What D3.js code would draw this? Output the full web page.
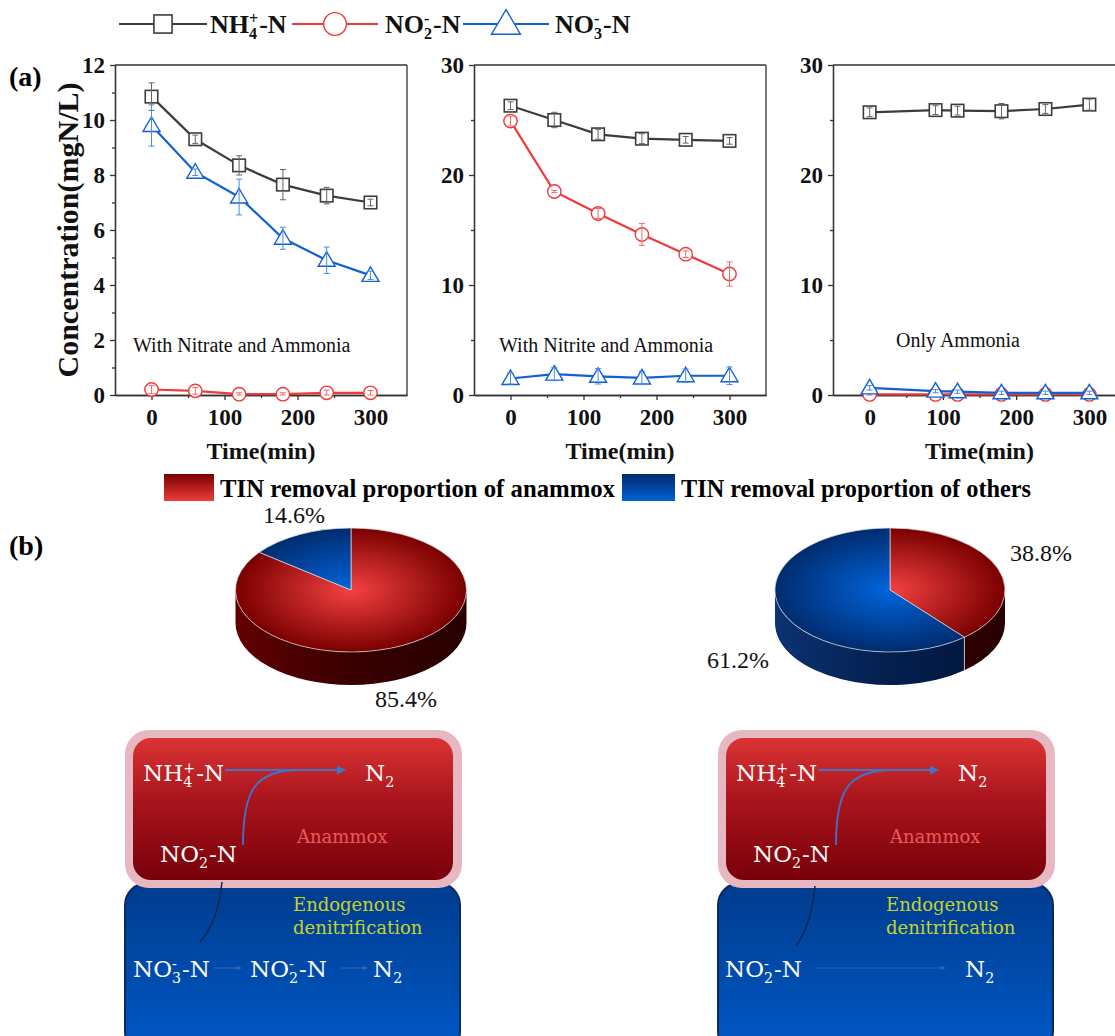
<!DOCTYPE html>
<html>
<head>
<meta charset="utf-8">
<script src="https://cdn.jsdelivr.net/npm/d3@7"></script>
<style>
  body { margin: 0; background: #fff; }
  svg { display: block; }
</style>
</head>
<body>
<div id="chart"></div>
<script>
// ---- data ----
const times1 = [0, 60, 120, 180, 240, 300];
const times3 = [0, 90, 120, 180, 240, 300];

const nh4A = [10.85, 9.3, 8.35, 7.65, 7.25, 7.0];
const nh4AErr = [0.5, 0.15, 0.35, 0.55, 0.3, 0.12];
const no2A = [0.2, 0.15, 0.03, 0.03, 0.08, 0.08];
const no2AErr = [0.15, 0.12, 0.05, 0.05, 0.1, 0.08];
const no3A = [9.8, 8.1, 7.2, 5.7, 4.9, 4.35];
const no3AErr = [0.75, 0.12, 0.65, 0.4, 0.48, 0.15];

const nh4B = [26.3, 25.0, 23.7, 23.3, 23.2, 23.1];
const nh4BErr = [0.35, 0.7, 0.45, 0.45, 0.3, 0.3];
const no2B = [24.9, 18.5, 16.5, 14.6, 12.8, 11.0];
const no2BErr = [0.45, 0.1, 0.45, 1.0, 0.3, 1.1];
const no3B = [1.5, 1.9, 1.7, 1.55, 1.75, 1.75];
const no3BErr = [0.5, 0.6, 0.7, 0.6, 0.6, 0.8];

const nh4C = [25.7, 25.9, 25.85, 25.8, 26.0, 26.4];
const nh4CErr = [0.4, 0.4, 0.4, 0.7, 0.4, 0.5];
const no2C = [0.05, 0.05, 0.05, 0.05, 0.05, 0.05];
const no2CErr = [0.1, 0.1, 0.1, 0.1, 0.1, 0.1];
const no3C = [0.65, 0.35, 0.3, 0.2, 0.2, 0.2];
const no3CErr = [0.2, 0.15, 0.15, 0.15, 0.15, 0.15];

const panelNotes = ["With Nitrate and Ammonia", "With Nitrite and Ammonia", "Only Ammonia"];
const xTicks = [0, 100, 200, 300];

const pieGroups = ["anammox", "others"];
const anammoxShare = [85.4, 38.8];
const othersShare = [14.6, 61.2];

// ---- setup ----
const FONT = "Liberation Serif, Times New Roman, serif";
const W = 1115, H = 1036;
const svg = d3.select("#chart").append("svg").attr("width", W).attr("height", H)
  .attr("font-family", FONT);
const defs = svg.append("defs");

const colors = { nh4: "#3c3c3c", no2: "#f03a3a", no3: "#1160d4" };
const errColors = { nh4: "#666", no2: "#f06a6a", no3: "#4a8ce6" };

// one text element with tspans; sup and sub stacked like NH4+ ; returns end x
function chem(g, x, y, parts, size, fill, weight) {
  const t = g.append("text").attr("x", x).attr("y", y).attr("font-size", size)
    .attr("font-weight", weight || "normal").attr("fill", fill);
  let cx = x, shift = 0;
  parts.forEach(p => {
    if (typeof p === "string") {
      const s = t.append("tspan").attr("x", cx).attr("dy", -shift).text(p);
      shift = 0;
      cx += s.node().getComputedTextLength();
    } else {
      let w = 0;
      if (p.sup) {
        const off = -size * 0.36;
        const s = t.append("tspan").attr("x", cx).attr("dy", off - shift).attr("font-size", size * 0.62).text(p.sup);
        shift = off; w = Math.max(w, s.node().getComputedTextLength());
      }
      if (p.sub) {
        const off = size * 0.24;
        const s = t.append("tspan").attr("x", cx).attr("dy", off - shift).attr("font-size", size * 0.62).text(p.sub);
        shift = off; w = Math.max(w, s.node().getComputedTextLength());
      }
      cx += w + 1;
    }
  });
  return cx;
}

function marker(g, type, cx, cy, k) {
  k = k || 1;
  if (type === "nh4") {
    const s = 12.5 * k;
    g.append("rect").attr("x", cx - s / 2).attr("y", cy - s / 2).attr("width", s).attr("height", s)
      .attr("fill", "#fff").attr("stroke", colors.nh4).attr("stroke-width", 1.6);
  } else if (type === "no2") {
    g.append("circle").attr("cx", cx).attr("cy", cy).attr("r", 6.7 * k)
      .attr("fill", "#fff").attr("stroke", colors.no2).attr("stroke-width", 1.4);
  } else {
    g.append("path").attr("transform", `translate(${cx},${cy}) scale(${k})`)
      .attr("d", "M0,-8.5 L8.5,6 L-8.5,6 Z")
      .attr("fill", "#fff").attr("stroke", colors.no3).attr("stroke-width", 1.4 / k);
  }
}

// ---- (a) line panels ----
const TOP = 65, BOTTOM = 395;
const panels = [
  { left: 115, right: 407, yMax: 12, major: 2, minor: 1, times: times1,
    series: [["nh4", nh4A, nh4AErr], ["no2", no2A, no2AErr], ["no3", no3A, no3AErr]], noteX: 133, noteY: 352 },
  { left: 474, right: 766, yMax: 30, major: 10, minor: 5, times: times1,
    series: [["nh4", nh4B, nh4BErr], ["no2", no2B, no2BErr], ["no3", no3B, no3BErr]], noteX: 499, noteY: 352 },
  { left: 833, right: 1126, yMax: 30, major: 10, minor: 5, times: times3,
    series: [["nh4", nh4C, nh4CErr], ["no2", no2C, no2CErr], ["no3", no3C, no3CErr]], noteX: 896, noteY: 347 }
];

panels.forEach((p, i) => {
  const x = d3.scaleLinear().domain([-50, 350]).range([p.left, p.right]);
  const y = d3.scaleLinear().domain([0, p.yMax]).range([BOTTOM, TOP]);
  const g = svg.append("g");

  const majorY = d3.range(0, p.yMax + 0.001, p.major);
  const minorY = d3.range(0, p.yMax + 0.001, p.minor).filter(v => !majorY.includes(v));

  g.append("g").attr("transform", `translate(${p.left},0)`)
    .call(d3.axisLeft(y).tickValues(minorY).tickSize(3).tickSizeOuter(0).tickFormat(""));
  g.append("g").attr("transform", `translate(${p.left},0)`)
    .call(d3.axisLeft(y).tickValues(majorY).tickSize(5).tickSizeOuter(0).tickPadding(5).tickFormat(d3.format("d")));
  g.append("g").attr("transform", `translate(0,${BOTTOM})`)
    .call(d3.axisBottom(x).tickValues([50, 150, 250]).tickSize(3).tickSizeOuter(0).tickFormat(""));
  g.append("g").attr("transform", `translate(0,${BOTTOM})`)
    .call(d3.axisBottom(x).tickValues(xTicks).tickSize(5).tickSizeOuter(0).tickPadding(9).tickFormat(d3.format("d")));

  g.selectAll(".domain, .tick line").attr("stroke", "#333").attr("stroke-width", 1.3);
  g.selectAll(".tick text").attr("font-size", 23).attr("font-weight", "bold")
    .attr("font-family", FONT).attr("fill", "#111");

  // frame
  g.append("line").attr("x1", p.left).attr("x2", p.right).attr("y1", TOP).attr("y2", TOP)
    .attr("stroke", "#333").attr("stroke-width", 1.3);
  g.append("line").attr("x1", p.right).attr("x2", p.right).attr("y1", TOP).attr("y2", BOTTOM)
    .attr("stroke", "#333").attr("stroke-width", 1.3);

  g.append("text").attr("x", (p.left + p.right) / 2).attr("y", 459).attr("text-anchor", "middle")
    .attr("font-size", 24).attr("font-weight", "bold").attr("fill", "#111").text("Time(min)");

  g.append("text").attr("x", p.noteX).attr("y", p.noteY).attr("font-size", 20).attr("fill", "#111")
    .text(panelNotes[i]);

  const line = d3.line().x(d => x(d[0])).y(d => y(d[1]));
  p.series.forEach(([key, vals, errs]) => {
    const pts = p.times.map((t, j) => [t, vals[j], errs[j]]);
    g.append("path").datum(pts).attr("d", line).attr("fill", "none")
      .attr("stroke", colors[key]).attr("stroke-width", 2.2);
    pts.forEach(d => marker(g, key, x(d[0]), y(d[1])));
    pts.forEach(d => {
      const cx = x(d[0]), y0 = y(Math.max(0, d[1] - d[2])), y1 = y(d[1] + d[2]);
      const eg = g.append("g").attr("stroke", errColors[key]).attr("stroke-width", 1);
      eg.append("line").attr("x1", cx).attr("x2", cx).attr("y1", y0).attr("y2", y1);
      eg.append("line").attr("x1", cx - 3).attr("x2", cx + 3).attr("y1", y0).attr("y2", y0);
      eg.append("line").attr("x1", cx - 3).attr("x2", cx + 3).attr("y1", y1).attr("y2", y1);
    });
  });

  if (i === 0) {
    g.append("text").attr("transform", "translate(78,230) rotate(-90)").attr("text-anchor", "middle")
      .attr("font-size", 30).attr("font-weight", "bold").attr("fill", "#111").text("Concentration(mgN/L)");
  }
});

svg.append("text").attr("x", 9).attr("y", 86).attr("font-size", 28).attr("font-weight", "bold").text("(a)");
svg.append("text").attr("x", 9).attr("y", 555).attr("font-size", 28).attr("font-weight", "bold").text("(b)");

// ---- legend (a) ----
const legItems = [
  { key: "nh4", x0: 119, x1: 207, tx: 210, parts: ["NH", { sup: "+", sub: "4" }, "-N"], k: 1.45 },
  { key: "no2", x0: 292, x1: 378, tx: 385, parts: ["NO", { sup: "-", sub: "2" }, "-N"], k: 1.7 },
  { key: "no3", x0: 463, x1: 549, tx: 555, parts: ["NO", { sup: "-", sub: "3" }, "-N"], k: 1.7 }
];
const leg = svg.append("g");
legItems.forEach(it => {
  leg.append("line").attr("x1", it.x0).attr("x2", it.x1).attr("y1", 24).attr("y2", 24)
    .attr("stroke", colors[it.key]).attr("stroke-width", 2.2);
  marker(leg, it.key, (it.x0 + it.x1) / 2, 24, it.k);
  chem(leg, it.tx, 33, it.parts, 26, "#111", "bold");
});

// ---- (b) pies ----
function linGrad(id, x1, y1, x2, y2, stops, user) {
  const lg = defs.append("linearGradient").attr("id", id)
    .attr("x1", x1).attr("y1", y1).attr("x2", x2).attr("y2", y2);
  if (user) lg.attr("gradientUnits", "userSpaceOnUse");
  stops.forEach(s => lg.append("stop").attr("offset", s[0]).attr("stop-color", s[1]));
}

linGrad("legRed", 0, 0, 0, 1, [[0, "#7a0000"], [1, "#ee3c3c"]]);
linGrad("legBlue", 0, 0, 0, 1, [[0, "#002a6c"], [1, "#0062d6"]]);

const pieLeg = svg.append("g");
pieLeg.append("rect").attr("x", 164).attr("y", 474).attr("width", 50).attr("height", 27).attr("fill", "url(#legRed)");
pieLeg.append("text").attr("x", 220).attr("y", 497).attr("font-size", 26).attr("font-weight", "bold")
  .attr("textLength", 395).attr("lengthAdjust", "spacingAndGlyphs").text("TIN removal proportion of anammox");
pieLeg.append("rect").attr("x", 622).attr("y", 474).attr("width", 53).attr("height", 27).attr("fill", "url(#legBlue)");
pieLeg.append("text").attr("x", 681).attr("y", 497).attr("font-size", 26).attr("font-weight", "bold")
  .attr("textLength", 350).attr("lengthAdjust", "spacingAndGlyphs").text("TIN removal proportion of others");

const pies = [
  { cx: 351, cy: 590, rx: 115.5, ry: 62, depth: 33, idx: 0,
    labels: [{ x: 375, y: 707 }, { x: 263, y: 523 }] },
  { cx: 890, cy: 590, rx: 115, ry: 62, depth: 33, idx: 1,
    labels: [{ x: 1010, y: 561 }, { x: 707, y: 668 }] }
];
const topCols = { anammox: ["#ee3e3e", "#7a0000"], others: ["#0062d8", "#002c6e"] };
const sideCols = { anammox: ["#620000", "#3a0000", "#280000"], others: ["#0c3272", "#041f4e", "#00153a"] };

pies.forEach((pp, k) => {
  const vals = [anammoxShare[pp.idx], othersShare[pp.idx]];
  const arcs = d3.pie().sort(null).startAngle(0).endAngle(2 * Math.PI)(vals);
  const pt = a => [pp.cx + pp.rx * Math.sin(a), pp.cy - pp.ry * Math.cos(a)];

  pieGroups.forEach(name => {
    const rg = defs.append("radialGradient").attr("id", `top-${name}-${k}`)
      .attr("gradientUnits", "userSpaceOnUse").attr("cx", pp.cx).attr("cy", pp.cy).attr("r", pp.rx)
      .attr("gradientTransform", `translate(${pp.cx},${pp.cy}) scale(1,${pp.ry / pp.rx}) translate(${-pp.cx},${-pp.cy})`);
    rg.append("stop").attr("offset", 0.05).attr("stop-color", topCols[name][0]);
    rg.append("stop").attr("offset", 1).attr("stop-color", topCols[name][1]);
    const sc = sideCols[name];
    linGrad(`side-${name}-${k}`, pp.cx - pp.rx, 0, pp.cx + pp.rx, 0, [[0, sc[0]], [0.5, sc[1]], [1, sc[2]]], true);
  });

  const g = svg.append("g");
  // side walls (front half: angles pi/2..3pi/2)
  arcs.forEach((a, j) => {
    const a0 = Math.max(a.startAngle, Math.PI / 2), a1 = Math.min(a.endAngle, 3 * Math.PI / 2);
    if (a1 <= a0) return;
    const p0 = pt(a0), p1 = pt(a1);
    const d = `M${p0[0]},${p0[1]} A${pp.rx},${pp.ry} 0 0 1 ${p1[0]},${p1[1]} L${p1[0]},${p1[1] + pp.depth}` +
      ` A${pp.rx},${pp.ry} 0 0 0 ${p0[0]},${p0[1] + pp.depth} Z`;
    g.append("path").attr("d", d).attr("fill", `url(#side-${pieGroups[j]}-${k})`);
    if (a0 > Math.PI / 2 && a0 < 3 * Math.PI / 2) {
      g.append("line").attr("x1", p0[0]).attr("x2", p0[0]).attr("y1", p0[1]).attr("y2", p0[1] + pp.depth)
        .attr("stroke", "#d8d8d8").attr("stroke-width", 0.8);
    }
  });
  // top faces
  arcs.forEach((a, j) => {
    const p0 = pt(a.startAngle), p1 = pt(a.endAngle);
    const large = a.endAngle - a.startAngle > Math.PI ? 1 : 0;
    const d = `M${pp.cx},${pp.cy} L${p0[0]},${p0[1]} A${pp.rx},${pp.ry} 0 ${large} 1 ${p1[0]},${p1[1]} Z`;
    g.append("path").attr("d", d).attr("fill", `url(#top-${pieGroups[j]}-${k})`)
      .attr("stroke", "#dcdcdc").attr("stroke-width", 0.7);
  });
  // labels
  vals.forEach((v, j) => {
    g.append("text").attr("x", pp.labels[j].x).attr("y", pp.labels[j].y).attr("font-size", 24)
      .attr("fill", "#111").text(d3.format(".1f")(v) + "%");
  });
});

// ---- schematic diagrams ----
linGrad("boxRed", 0, 0, 0, 1, [[0, "#da3434"], [0.45, "#a8141c"], [1, "#78000a"]]);
linGrad("boxBlue", 0, 0, 0, 1, [[0, "#003c8e"], [1, "#0058c6"]]);
const arrowM = defs.append("marker").attr("id", "arr").attr("viewBox", "0 0 10 10").attr("refX", 9).attr("refY", 5)
  .attr("markerWidth", 5).attr("markerHeight", 5).attr("orient", "auto");
arrowM.append("path").attr("d", "M0,0 L10,5 L0,10 Z").attr("fill", "#3f74c8");
const arrowS = defs.append("marker").attr("id", "arrS").attr("viewBox", "0 0 10 10").attr("refX", 9).attr("refY", 5)
  .attr("markerWidth", 3.5).attr("markerHeight", 3.5).attr("orient", "auto");
arrowS.append("path").attr("d", "M0,0 L10,5 L0,10 Z").attr("fill", "#3a6ab8");

const DF = "DejaVu Serif, Liberation Serif, serif";
const schemes = [
  { ox: 0, bottom: [
      { x: 133, parts: ["NO", { sup: "-", sub: "3" }, "-N"] },
      { x: 250, parts: ["NO", { sup: "-", sub: "2" }, "-N"] },
      { x: 373, parts: ["N", { sub: "2" }] }],
    arrows: [[214, 241], [341, 367]], dark: [222, 882, 200, 942] },
  { ox: 593, bottom: [
      { x: 725, parts: ["NO", { sup: "-", sub: "2" }, "-N"] },
      { x: 965, parts: ["N", { sub: "2" }] }],
    arrows: [[815, 945]], dark: [815, 886, 796, 946] }
];

schemes.forEach(s => {
  const o = s.ox;
  const g = svg.append("g").attr("font-family", DF);
  g.append("rect").attr("x", 125 + o).attr("y", 883).attr("width", 335).attr("height", 170).attr("rx", 22)
    .attr("fill", "url(#boxBlue)").attr("stroke", "#0b2a5c").attr("stroke-width", 2);
  g.append("rect").attr("x", 125 + o).attr("y", 730).attr("width", 337).attr("height", 158).attr("rx", 24)
    .attr("fill", "#e7b7c2");
  g.append("rect").attr("x", 133 + o).attr("y", 738).attr("width", 320).attr("height", 142).attr("rx", 18)
    .attr("fill", "url(#boxRed)");

  // anammox
  const endNH = chem(g, 143 + o, 781, ["NH", { sup: "+", sub: "4" }, "-N"], 23, "#fff");
  g.append("line").attr("x1", endNH + 1).attr("x2", 345 + o).attr("y1", 770).attr("y2", 770)
    .attr("stroke", "#3f74c8").attr("stroke-width", 1.8).attr("marker-end", "url(#arr)");
  chem(g, 365 + o, 781, ["N", { sub: "2" }], 23, "#fff");
  g.append("path").attr("d", `M${243 + o},845 C${243 + o},790 ${255 + o},770 ${300 + o},770`)
    .attr("fill", "none").attr("stroke", "#3f74c8").attr("stroke-width", 1.8);
  g.append("text").attr("x", 297 + o).attr("y", 843).attr("font-size", 18).attr("fill", "#ec5a5a").text("Anammox");
  chem(g, 160 + o, 862, ["NO", { sup: "-", sub: "2" }, "-N"], 23, "#fff");

  // denitrification
  const d = s.dark;
  g.append("path").attr("d", `M${d[0]},${d[1]} Q${d[0] - 4},${(d[1] + d[3]) / 2 + 10} ${d[2]},${d[3]}`)
    .attr("fill", "none").attr("stroke", "#14264a").attr("stroke-width", 1.5);
  g.append("text").attr("x", 293 + o).attr("y", 911).attr("font-size", 18).attr("fill", "#c6d22c").text("Endogenous");
  g.append("text").attr("x", 293 + o).attr("y", 934).attr("font-size", 18).attr("fill", "#c6d22c").text("denitrification");
  s.bottom.forEach(b => chem(g, b.x, 977, b.parts, 23, "#fff"));
  s.arrows.forEach(a => g.append("line").attr("x1", a[0]).attr("x2", a[1]).attr("y1", 968).attr("y2", 968)
    .attr("stroke", "#2f62b4").attr("stroke-width", 1.2).attr("marker-end", "url(#arrS)"));
});
</script>
</body>
</html>
